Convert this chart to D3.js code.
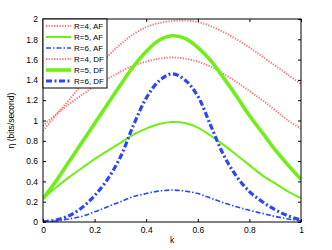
<!DOCTYPE html>
<html>
<head>
<meta charset="utf-8">
<script src="https://cdn.jsdelivr.net/npm/d3@7"></script>
<style>
  body { margin: 0; background: #fff; }
  svg { display: block; font-family: "Liberation Sans", Arial, sans-serif; }
</style>
</head>
<body>
<div id="chart"></div>
<script>
// k values shared by every curve
const kValues = [0, .05, .1, .15, .2, .25, .3, .35, .4, .45, .5, .55, .6, .65, .7, .75, .8, .85, .9, .95, 1]

const r4AF = [0.95, 1.06, 1.16, 1.25, 1.34, 1.41, 1.48, 1.54, 1.58, 1.61, 1.62, 1.61, 1.58, 1.53, 1.46, 1.38, 1.29, 1.2, 1.1, 1.0, 0.92]
const r5AF = [0.23, 0.34, 0.44, 0.53, 0.62, 0.70, 0.78, 0.86, 0.92, 0.965, 0.985, 0.975, 0.93, 0.85, 0.76, 0.66, 0.56, 0.46, 0.38, 0.30, 0.235]
const r6AF = [0, 0.01, 0.03, 0.055, 0.10, 0.15, 0.20, 0.25, 0.28, 0.305, 0.315, 0.305, 0.28, 0.235, 0.19, 0.15, 0.115, 0.085, 0.055, 0.03, 0.01]
const r4DF = [0.9, 1.05, 1.2, 1.35, 1.49, 1.63, 1.75, 1.85, 1.92, 1.96, 1.98, 1.985, 1.97, 1.93, 1.87, 1.8, 1.72, 1.63, 1.54, 1.45, 1.36]
const r5DF = [0.23, 0.4, 0.59, 0.78, 0.97, 1.16, 1.35, 1.53, 1.68, 1.79, 1.835, 1.81, 1.72, 1.59, 1.42, 1.24, 1.05, 0.88, 0.71, 0.56, 0.42]
const r6DF = [0, 0.02, 0.06, 0.14, 0.26, 0.42, 0.64, 0.95, 1.22, 1.39, 1.46, 1.40, 1.24, 0.95, 0.66, 0.45, 0.30, 0.20, 0.12, 0.06, 0.02]

const seriesNames = ["R=4, AF", "R=5, AF", "R=6, AF", "R=4, DF", "R=5, DF", "R=6, DF"]
const seriesValues = [r4AF, r5AF, r6AF, r4DF, r5DF, r6DF]

const xTicks = [0, 0.2, 0.4, 0.6, 0.8, 1]
const yTicks = [0, 0.2, 0.4, 0.6, 0.8, 1, 1.2, 1.4, 1.6, 1.8, 2]

const red = "#ff6e6e", green = "#6fee17", blue = "#2b45ff"
const styles = [
  {color: red, width: 2, dash: "1.2,1.5"},
  {color: green, width: 2, dash: null},
  {color: blue, width: 1.6, dash: "5,2,1.5,2"},
  {color: red, width: 2, dash: "1.2,1.5"},
  {color: green, width: 3.6, dash: null},
  {color: blue, width: 3.2, dash: "6,2.5,2,2.5"}
]

const width = 332, height = 250
const margin = {left: 43, right: 31, top: 19, bottom: 28}

const svg = d3.select("#chart").append("svg")
  .attr("width", width)
  .attr("height", height)

const x = d3.scaleLinear().domain([0, 1]).range([margin.left, width - margin.right])
const y = d3.scaleLinear().domain([0, 2]).range([height - margin.bottom, margin.top])

const line = d3.line()
  .x((d, i) => x(kValues[i]))
  .y(d => y(d))
  .curve(d3.curveCatmullRom.alpha(0.5))

svg.append("clipPath").attr("id", "clip")
  .append("rect")
  .attr("x", x(0)).attr("y", y(2))
  .attr("width", x(1) - x(0)).attr("height", y(0) - y(2))

svg.append("g").attr("clip-path", "url(#clip)")
  .selectAll("path")
  .data(seriesValues)
  .enter()
  .append("path")
  .attr("d", line)
  .attr("fill", "none")
  .attr("stroke", (d, i) => styles[i].color)
  .attr("stroke-width", (d, i) => styles[i].width)
  .attr("stroke-dasharray", (d, i) => styles[i].dash)

// axes, ticks inside on all four sides
const axisStyle = g => {
  g.select(".domain").remove()
  g.selectAll("line").attr("stroke", "#000")
  g.selectAll("text").attr("font-size", 8.5).attr("fill", "#000")
}

svg.append("g")
  .attr("transform", `translate(0,${y(0)})`)
  .call(d3.axisBottom(x).tickValues(xTicks).tickFormat(d3.format("")).tickSizeInner(-3).tickPadding(5))
  .call(axisStyle)

svg.append("g")
  .attr("transform", `translate(0,${y(2)})`)
  .call(d3.axisTop(x).tickValues(xTicks).tickFormat("").tickSizeInner(-3))
  .call(axisStyle)

svg.append("g")
  .attr("transform", `translate(${x(0)},0)`)
  .call(d3.axisLeft(y).tickValues(yTicks).tickFormat(d3.format("")).tickSizeInner(-3).tickPadding(5))
  .call(axisStyle)

svg.append("g")
  .attr("transform", `translate(${x(1)},0)`)
  .call(d3.axisRight(y).tickValues(yTicks).tickFormat("").tickSizeInner(-3))
  .call(axisStyle)

svg.append("rect")
  .attr("x", x(0)).attr("y", y(2))
  .attr("width", x(1) - x(0)).attr("height", y(0) - y(2))
  .attr("fill", "none").attr("stroke", "#000").attr("stroke-width", 1)

svg.append("text")
  .attr("x", (x(0) + x(1)) / 2).attr("y", 243)
  .attr("text-anchor", "middle").attr("font-size", 8.5)
  .text("k")

svg.append("text")
  .attr("transform", `translate(14,${(y(0) + y(2)) / 2}) rotate(-90)`)
  .attr("text-anchor", "middle").attr("font-size", 8.5)
  .text("η (bits/second)")

// legend
const legend = svg.append("g")
legend.append("rect")
  .attr("x", x(0)).attr("y", y(2))
  .attr("width", 64).attr("height", 69)
  .attr("fill", "#fff").attr("stroke", "#000")

const rows = legend.selectAll("g.row")
  .data(seriesNames)
  .enter()
  .append("g")
  .attr("class", "row")
  .attr("transform", (d, i) => `translate(${x(0)},${26 + i * 11})`)

rows.append("line")
  .attr("x1", 3).attr("x2", 28)
  .attr("stroke", (d, i) => styles[i].color)
  .attr("stroke-width", (d, i) => styles[i].width)
  .attr("stroke-dasharray", (d, i) => styles[i].dash)

rows.append("text")
  .attr("x", 31).attr("y", 3)
  .attr("font-size", 8)
  .text(d => d)
</script>
</body>
</html>
